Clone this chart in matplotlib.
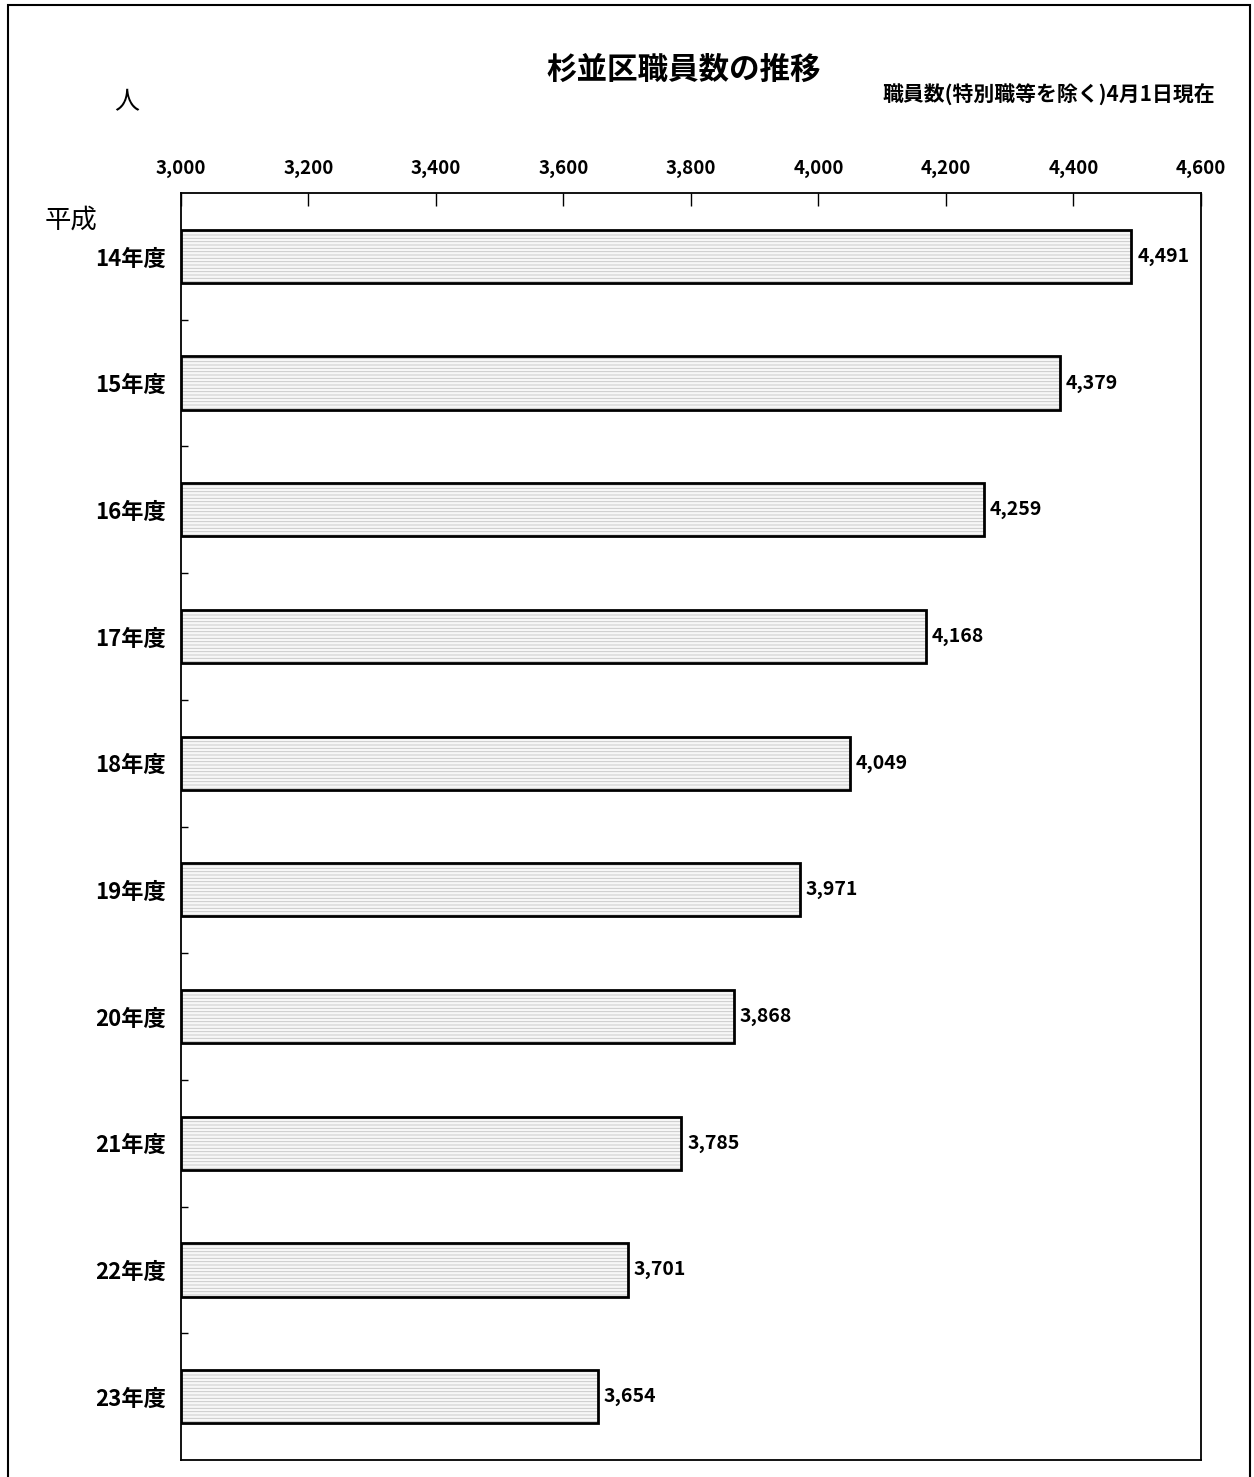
import matplotlib.pyplot as plt
from matplotlib.patches import Rectangle
from matplotlib.ticker import FixedLocator

plt.rcParams['font.family'] = ['Noto Sans CJK JP', 'DejaVu Sans']
plt.rcParams['hatch.linewidth'] = 0.6

# 職員数（各年度4月1日現在）
years = ['14年度', '15年度', '16年度', '17年度', '18年度',
         '19年度', '20年度', '21年度', '22年度', '23年度']
staff = [4491, 4379, 4259, 4168, 4049, 3971, 3868, 3785, 3701, 3654]
xticks = [3000, 3200, 3400, 3600, 3800, 4000, 4200, 4400, 4600]

fig = plt.figure(figsize=(12.54, 14.77), dpi=100)
ax = fig.add_axes([0.1443, 0.0115, 0.8134, 0.8578])

pos = list(range(len(years)))
base = 3000
widths = [v - base for v in staff]

# texture first, then the black outline on top
ax.barh(pos, widths, left=base, height=0.42, color='#f7f7f7',
        edgecolor='#c4c4c4', hatch='-----', linewidth=0, zorder=2)
ax.barh(pos, widths, left=base, height=0.42, color='none',
        edgecolor='black', linewidth=2, zorder=3)

for p, v in zip(pos, staff):
    ax.text(v + 9, p, f'{v:,}', ha='left', va='center', fontsize=14,
            fontweight='bold')

ax.set_xlim(3000, 4600)
ax.set_ylim(len(years) - 0.5, -0.5)

ax.xaxis.tick_top()
ax.set_xticks(xticks)
ax.set_xticklabels([f'{t:,}' for t in xticks], fontsize=13.5, fontweight='bold')
ax.tick_params(axis='x', direction='in', length=9, width=1, pad=11)

ax.set_yticks(pos)
ax.set_yticklabels(years, fontsize=16, fontweight='bold')
ax.tick_params(axis='y', length=0, pad=11)
ax.yaxis.set_minor_locator(FixedLocator([p + 0.5 for p in pos[:-1]]))
ax.tick_params(axis='y', which='minor', direction='in', length=5, width=1)

for s in ax.spines.values():
    s.set_linewidth(1.3)

fig.text(0.545, 0.953, '杉並区職員数の推移', ha='center', va='center',
         fontsize=22, fontweight='bold')
fig.text(0.969, 0.936, '職員数(特別職等を除く)4月1日現在', ha='right', va='center',
         fontsize=15, fontweight='bold')
fig.text(0.101, 0.931, '人', ha='center', va='center', fontsize=18)
fig.text(0.057, 0.851, '平成', ha='center', va='center', fontsize=19)

# frame around the whole sheet
fig.patches.append(Rectangle((0.0065, -0.01), 0.99, 1.0065, transform=fig.transFigure,
                             fill=False, edgecolor='black', linewidth=1.5))

fig.savefig('out.png', dpi=100)
